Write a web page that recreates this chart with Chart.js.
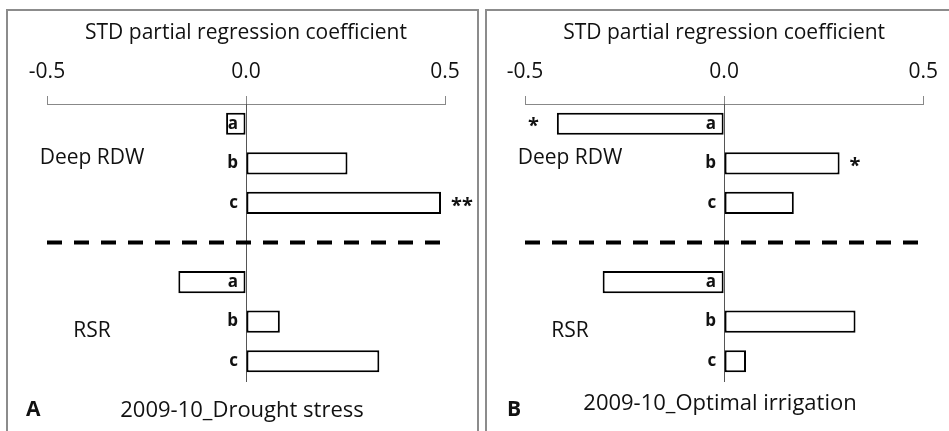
<!DOCTYPE html>
<html>
<head>
<meta charset="utf-8">
<script src="https://cdn.jsdelivr.net/npm/chart.js@4.4.0/dist/chart.umd.min.js"></script>
<style>
  html, body { margin: 0; padding: 0; background: #fff; overflow: hidden; }
  body { width: 949px; height: 431px; position: relative; font-family: "Open Sans", sans-serif; }
  .panel { position: absolute; border: 2px solid #8c8c8c; box-sizing: border-box; }
  .wrap { position: absolute; top: 0; height: 431px; }
  .cap { position: absolute; font-size: 22px; color: #111; white-space: nowrap; transform: translate(-50%, -50%); }
  .tag { position: absolute; font-size: 21px; font-weight: bold; color: #111; transform: translateY(-50%); }
</style>
</head>
<body>
<div class="panel" style="left:6px; top:9px; width:473px; height:440px;"></div>
<div class="panel" style="left:485px; top:9px; width:480px; height:440px;"></div>

<div class="wrap" style="left:0; width:480px;"><canvas id="chartA"></canvas></div>
<div class="wrap" style="left:480px; width:469px;"><canvas id="chartB"></canvas></div>

<div class="tag" style="left:26px; top:408px;">A</div>
<div class="cap" style="left:242px; top:408px;">2009-10_Drought stress</div>
<div class="tag" style="left:507px; top:408px;">B</div>
<div class="cap" style="left:720px; top:401px;">2009-10_Optimal irrigation</div>

<script>
// categories: three bars per trait, one empty slot for the dashed separator
const categories = ['a', 'b', 'c', '', 'a', 'b', 'c'];
const groups = ['Deep RDW', 'RSR'];
const xTicks = [-0.5, 0.0, 0.5];

// standardised partial regression coefficients
const droughtValues = [-0.05, 0.255, 0.49, null, -0.17, 0.085, 0.335];
const droughtStars = ['', '', '**', '', '', '', ''];

const irrigationValues = [-0.42, 0.29, 0.175, null, -0.305, 0.33, 0.055];
const irrigationStars = ['*', '*', '', '', '', '', ''];

const FONT = '"Open Sans", sans-serif';

// draws separator, group names and significance stars from the scales
const extrasPlugin = {
  id: 'extras',
  afterDatasetsDraw(chart, args, opts) {
    const { ctx, chartArea, scales } = chart;
    const y = scales.y;

    // dashed separator in the empty slot
    ctx.save();
    ctx.strokeStyle = '#000';
    ctx.lineWidth = 4;
    ctx.setLineDash([15, 12]);
    const ySep = y.getPixelForValue(3);
    ctx.beginPath();
    ctx.moveTo(chartArea.left, ySep);
    ctx.lineTo(chartArea.right, ySep);
    ctx.stroke();
    ctx.restore();

    // group names on the left, a little off the middle bar like the original
    const nudge = [-5, 9];
    ctx.save();
    ctx.font = '21px ' + FONT;
    ctx.fillStyle = '#111';
    ctx.textAlign = 'center';
    ctx.textBaseline = 'middle';
    groups.forEach((g, i) => {
      ctx.fillText(g, chartArea.left + 45, y.getPixelForValue(1 + i * 4) + nudge[i]);
    });
    ctx.restore();

    // stars next to bar ends
    const meta = chart.getDatasetMeta(0);
    ctx.save();
    ctx.font = 'bold 20px ' + FONT;
    ctx.fillStyle = '#111';
    ctx.textBaseline = 'middle';
    opts.stars.forEach((s, i) => {
      if (!s) return;
      const bar = meta.data[i];
      const v = chart.data.datasets[0].data[i];
      if (v >= 0) {
        ctx.textAlign = 'left';
        ctx.fillText(s, bar.x + 10, bar.y + 3);
      } else {
        ctx.textAlign = 'right';
        ctx.fillText(s, bar.x - 18, bar.y + 3);
      }
    });
    ctx.restore();
  }
};

function makeChart(id, values, stars, padLeft, padRight) {
  return new Chart(document.getElementById(id), {
    type: 'bar',
    data: {
      labels: categories,
      datasets: [{
        data: values,
        backgroundColor: '#fff',
        borderColor: '#000',
        borderWidth: 2,
        borderSkipped: false,
        categoryPercentage: 1,
        barPercentage: 0.56
      }]
    },
    options: {
      indexAxis: 'y',
      responsive: true,
      maintainAspectRatio: false,
      animation: false,
      layout: { padding: { left: padLeft, right: padRight, top: 0, bottom: 50 } },
      plugins: {
        legend: { display: false },
        tooltip: { enabled: false },
        extras: { stars: stars }
      },
      scales: {
        x: {
          position: 'top',
          min: -0.5,
          max: 0.5,
          afterFit: (s) => { s.height = 104; },
          afterBuildTicks: (s) => { s.ticks = xTicks.map(v => ({ value: v })); },
          ticks: {
            padding: 11,
            color: '#111',
            font: { size: 21, family: FONT },
            callback: (v) => Number(v).toFixed(1)
          },
          grid: { drawOnChartArea: false, drawTicks: true, tickLength: 8, color: '#888' },
          border: { color: '#888', width: 1 },
          title: {
            display: true,
            text: 'STD partial regression coefficient',
            color: '#111',
            font: { size: 21, family: FONT },
            padding: { top: 20, bottom: 0 }
          }
        },
        y: {
          type: 'category',
          position: 'center',
          grid: { display: true, drawOnChartArea: false, drawTicks: false },
          border: { color: '#555', width: 1 },
          ticks: {
            z: 1,
            autoSkip: false,
            padding: 8,
            color: '#111',
            font: { size: 17, weight: 'bold', family: FONT }
          }
        }
      }
    },
    plugins: [extrasPlugin]
  });
}

makeChart('chartA', droughtValues, droughtStars, 47, 35);
makeChart('chartB', irrigationValues, irrigationStars, 45, 24);
</script>
</body>
</html>
